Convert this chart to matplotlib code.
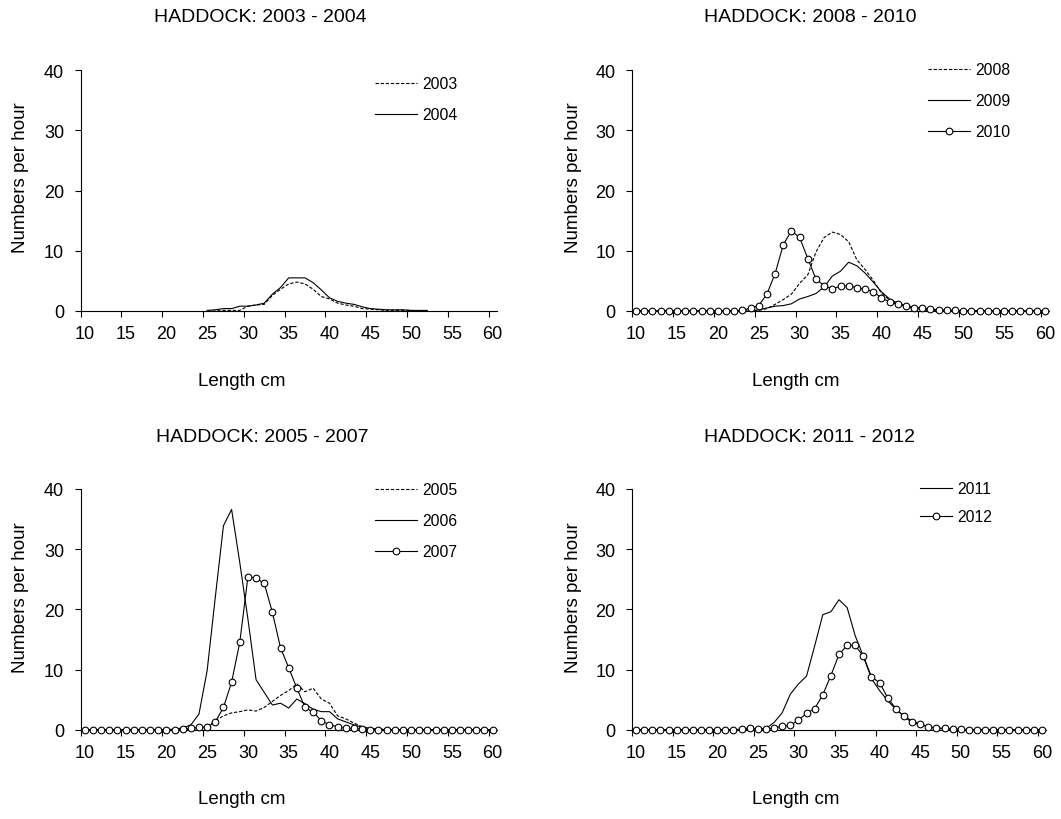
import matplotlib
matplotlib.use('Agg')
import matplotlib.pyplot as plt
import numpy as np

plt.rcParams['font.family'] = ['Liberation Sans', 'DejaVu Sans']

# Length classes (cm)
lengths = list(range(10, 61))
lengths_0304 = list(range(25, 53))

# Numbers per hour by length class
catch_2003 = [0.0, 0.0, 0.1, 0.1, 0.1, 0.8, 1.0, 1.1, 2.6, 3.6, 4.5, 4.8, 4.5, 3.6,
              2.4, 2.0, 1.3, 1.0, 0.8, 0.4, 0.3, 0.2, 0.1, 0.1, 0.1, 0.1, 0.0, 0.0]
catch_2004 = [0.1, 0.2, 0.4, 0.4, 0.8, 0.8, 1.0, 1.3, 2.8, 3.9, 5.5, 5.5, 5.5, 4.7,
              3.5, 2.2, 1.6, 1.3, 1.1, 0.7, 0.4, 0.3, 0.2, 0.2, 0.2, 0.1, 0.1, 0.1]

catch_2005 = [0.0] * 13 + [0.1, 0.2, 0.5, 1.5, 2.3, 2.8, 3.0, 3.3, 3.1, 3.7, 4.7, 5.7, 6.5,
                           7.6, 6.3, 6.9, 5.1, 4.4, 2.3, 1.8, 1.1, 0.5, 0.2, 0.1, 0.1] + [0.0] * 13
catch_2006 = [0.0] * 11 + [0.1, 0.3, 0.8, 2.6, 9.8, 22.0, 33.9, 36.6, 27.8, 18.4, 8.3, 6.2,
                           4.1, 4.4, 3.6, 5.1, 4.3, 3.4, 3.0, 3.0, 1.8, 1.3, 0.8, 0.4, 0.2,
                           0.1] + [0.0] * 14
catch_2007 = [0.0] * 12 + [0.1, 0.2, 0.4, 0.4, 1.3, 3.7, 7.9, 14.5, 25.4, 25.2, 24.3, 19.5,
                           13.6, 10.3, 6.9, 3.7, 2.9, 1.5, 0.8, 0.5, 0.2, 0.2, 0.1] + [0.0] * 16

catch_2008 = [0.0] * 15 + [0.1, 0.4, 1.1, 1.9, 2.8, 4.6, 6.0, 9.8, 12.2, 13.1, 12.7, 11.5,
                           8.5, 6.9, 5.1, 3.0, 1.8, 1.1, 0.7, 0.4, 0.2, 0.1, 0.1] + [0.0] * 13
catch_2009 = [0.0] * 15 + [0.2, 0.5, 0.8, 0.9, 1.2, 2.0, 2.4, 2.9, 4.0, 5.8, 6.6, 8.1, 7.5,
                           6.3, 4.8, 3.2, 2.0, 1.3, 0.9, 0.6, 0.4, 0.3, 0.2, 0.1, 0.1] + [0.0] * 11
catch_2010 = [0.0] * 13 + [0.1, 0.5, 0.9, 2.8, 6.2, 11.0, 13.3, 12.2, 8.7, 5.3, 4.2, 3.7,
                           4.1, 4.2, 3.9, 3.6, 3.2, 2.2, 1.5, 1.1, 0.8, 0.5, 0.5, 0.3, 0.2,
                           0.1, 0.1] + [0.0] * 11

catch_2011 = [0.0] * 15 + [0.1, 0.2, 1.2, 2.8, 5.9, 7.6, 8.9, 13.9, 19.1, 19.6, 21.6, 20.3,
                           15.6, 12.2, 8.5, 6.5, 4.8, 3.4, 2.2, 1.5, 0.9, 0.5, 0.3, 0.2,
                           0.1] + [0.0] * 11
catch_2012 = [0.0] * 13 + [0.1, 0.3, 0.1, 0.1, 0.3, 0.6, 0.7, 1.6, 2.7, 3.5, 5.8, 9.0, 12.5,
                           14.0, 14.0, 12.2, 8.8, 7.8, 5.3, 3.5, 2.2, 1.2, 0.9, 0.5, 0.2, 0.2,
                           0.1, 0.1] + [0.0] * 10

W, H = 1061, 820
fig = plt.figure(figsize=(W / 100, H / 100), dpi=100)

DASHED = dict(color='black', lw=0.8, ls=(0, (3, 1.6)))
SOLID = dict(color='black', lw=0.8, ls='-')
MARKED = dict(color='black', lw=0.8, ls='-', marker='o', markersize=4.8,
              markerfacecolor='white', markeredgecolor='black', markeredgewidth=0.8)


def make_panel(left, top, right, bottom):
    """Axes placed by pixel box (left, top, right, bottom)."""
    ax = fig.add_axes([left / W, 1 - bottom / H, (right - left) / W, (bottom - top) / H])
    ax.set_xlim(9.5, 60.5)
    ax.set_ylim(0, 40)
    ax.set_yticks([0, 10, 20, 30, 40])
    # tick marks sit between length classes, labels on the classes
    ax.set_xticks(np.arange(9.5, 60, 5))
    ax.set_xticklabels([])
    ax.set_xticks(range(10, 61, 5), minor=True)
    ax.set_xticklabels([str(v) for v in range(10, 61, 5)], minor=True)
    ax.tick_params(axis='x', which='major', length=4, width=0.8, direction='out')
    ax.tick_params(axis='x', which='minor', length=0, pad=10, labelsize=13)
    ax.tick_params(axis='y', length=4, width=0.8, pad=8, labelsize=13)
    for side in ['top', 'right']:
        ax.spines[side].set_visible(False)
    for side in ['left', 'bottom']:
        ax.spines[side].set_linewidth(0.8)
    return ax


def add_legend(ax, x, y, handlelength=2.65, labelspacing=1.03):
    ax.legend(loc='upper left', bbox_to_anchor=(x / W, 1 - y / H),
              bbox_transform=fig.transFigure, frameon=False, fontsize=11.3,
              handlelength=handlelength, handletextpad=0.35, labelspacing=labelspacing,
              borderpad=0, borderaxespad=0)


def add_texts(title, cx_title, y_title, cx_xlabel, y_xlabel, x_ylabel, y_ylabel):
    fig.text(cx_title / W, 1 - y_title / H, title, ha='center', va='center', fontsize=14)
    fig.text(cx_xlabel / W, 1 - y_xlabel / H, 'Length cm', ha='center', va='center',
             fontsize=13.5)
    fig.text(x_ylabel / W, 1 - y_ylabel / H, 'Numbers per hour', ha='center',
             va='center', rotation=90, fontsize=13.5)


# HADDOCK 2003 - 2004
ax1 = make_panel(80.7, 71, 496.7, 312)
ax1.plot(lengths_0304, catch_2003, label='2003', clip_on=False, zorder=3, **DASHED)
ax1.plot(lengths_0304, catch_2004, label='2004', clip_on=False, zorder=3, **SOLID)
add_legend(ax1, 375, 77)
add_texts('HADDOCK: 2003 - 2004', 260, 17, 242, 382, 21, 178)

# HADDOCK 2008 - 2010
ax2 = make_panel(632, 71, 1049, 312)
ax2.plot(lengths, catch_2008, label='2008', clip_on=False, zorder=3, **DASHED)
ax2.plot(lengths, catch_2009, label='2009', clip_on=False, zorder=3, **SOLID)
ax2.plot(lengths, catch_2010, label='2010', clip_on=False, zorder=4, **MARKED)
add_legend(ax2, 928, 63)
add_texts('HADDOCK: 2008 - 2010', 810, 17, 796, 382, 573, 178)

# HADDOCK 2005 - 2007
ax3 = make_panel(80.7, 490, 496.7, 730.7)
ax3.plot(lengths, catch_2005, label='2005', clip_on=False, zorder=3, **DASHED)
ax3.plot(lengths, catch_2006, label='2006', clip_on=False, zorder=3, **SOLID)
ax3.plot(lengths, catch_2007, label='2007', clip_on=False, zorder=4, **MARKED)
add_legend(ax3, 375, 483)
add_texts('HADDOCK: 2005 - 2007', 262, 438, 242, 800, 21, 598)

# HADDOCK 2011 - 2012
ax4 = make_panel(632, 490, 1046, 730.7)
ax4.plot(lengths, catch_2011, label='2011', clip_on=False, zorder=3, **SOLID)
ax4.plot(lengths, catch_2012, label='2012', clip_on=False, zorder=4, **MARKED)
add_legend(ax4, 920, 482, handlelength=2.05, labelspacing=0.85)
add_texts('HADDOCK: 2011 - 2012', 810, 438, 796, 800, 573, 598)

fig.savefig('out.png', dpi=100)
